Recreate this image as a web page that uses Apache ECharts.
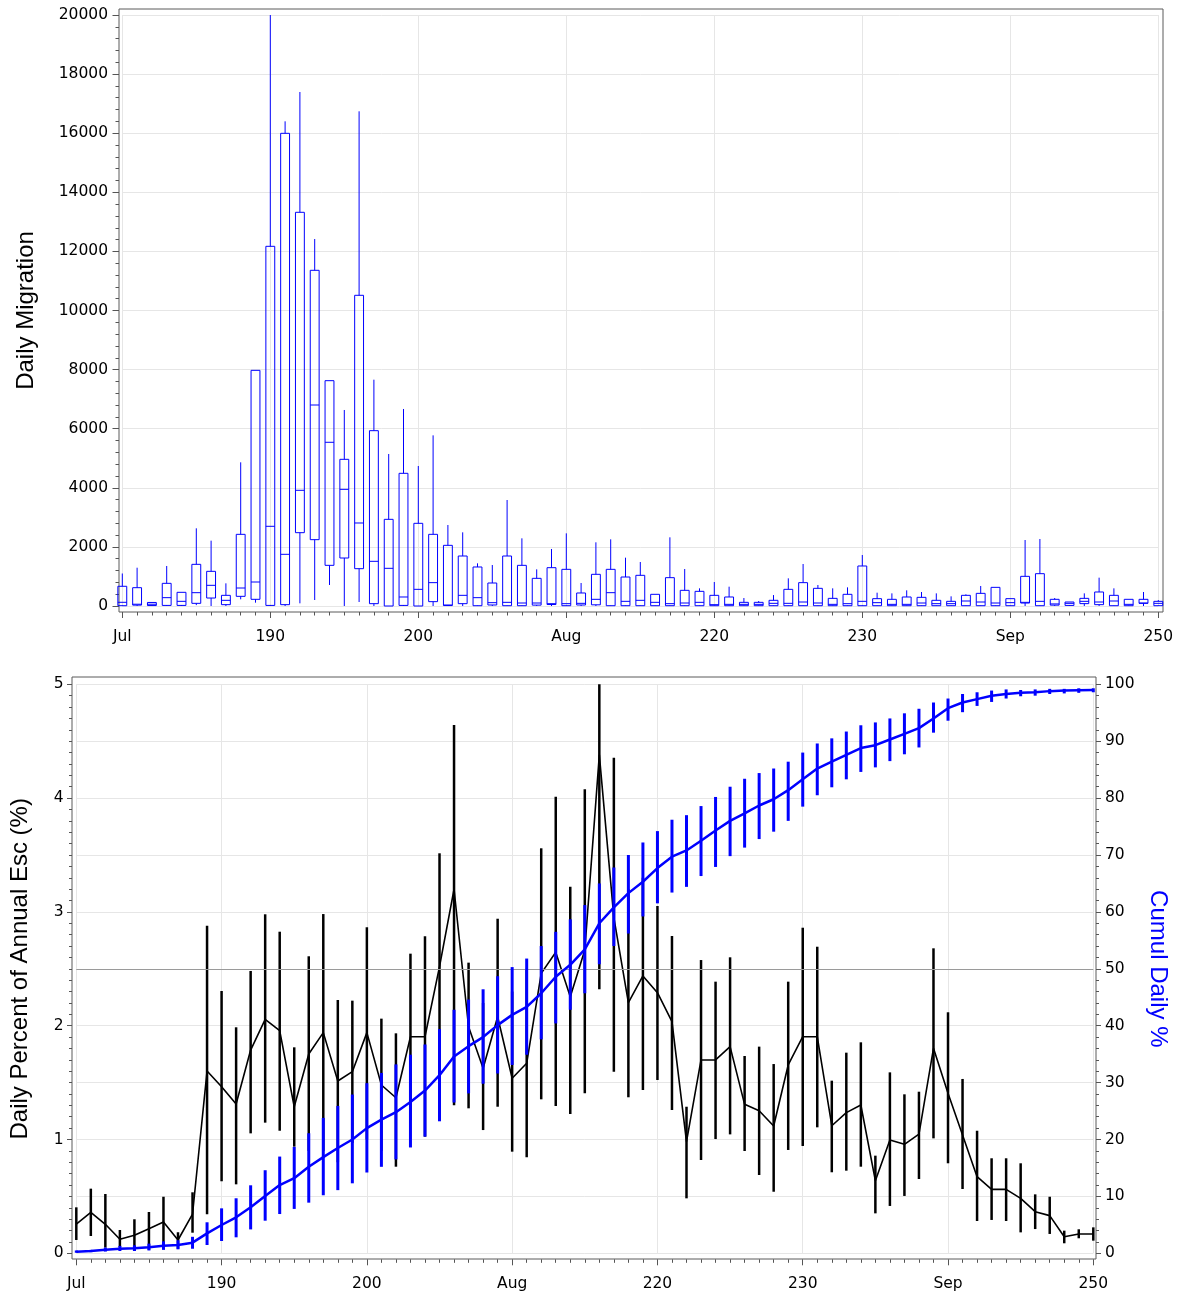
<!DOCTYPE html>
<html><head><meta charset="utf-8">
<script src="https://cdn.jsdelivr.net/npm/echarts@6/dist/echarts.min.js"></script>
<style>html,body{margin:0;padding:0;background:#fff}#c{width:1180px;height:1293px}</style>
</head><body><div id="c"></div>
<script>
// ---------- data ----------
const days = [180,181,182,183,184,185,186,187,188,189,190,191,192,193,194,195,196,197,198,199,200,
  201,202,203,204,205,206,207,208,209,210,211,212,213,214,215,216,217,218,219,220,
  221,222,223,224,225,226,227,228,229,230,231,232,233,234,235,236,237,238,239,240,
  241,242,243,244,245,246,247,248,249,250];

const xTickValues = [180,190,200,210,220,230,240,250];
const xTickLabels = ['Jul','190','200','Aug','220','230','Sep','250'];

// Daily migration box plot (per day): whisker min, Q1, median, Q3, whisker max
const boxMin = [0,0,0,0,0,30,0,0,226,113,0,0,90,203,711,0,135,0,0,0,0,
  0,0,0,0,0,0,0,0,0,0,0,0,0,0,0,0,0,0,0,0,
  0,0,0,0,0,0,0,0,0,0,0,0,0,0,0,0,0,0,0,0,
  0,0,0,0,0,0,0,0,0,0];
const boxQ1 = [10,30,15,20,20,90,270,45,327,226,20,45,2481,2245,1376,1624,1263,79,0,20,0,
  147,15,79,10,34,10,10,30,50,10,34,40,10,10,10,10,10,10,10,10,
  10,10,10,10,10,10,10,10,10,10,10,10,10,10,10,10,10,10,10,10,
  100,10,30,20,80,45,10,10,90,10];
const boxMed = [125,60,60,282,158,451,700,192,609,812,2697,1749,3915,6802,5540,3948,2809,1512,1275,305,564,
  790,34,361,282,113,124,101,101,79,79,90,226,451,158,192,124,79,101,124,45,
  56,56,56,90,90,135,101,56,79,158,113,56,56,101,79,79,169,135,101,113,
  124,158,70,90,158,135,169,56,101,90];
const boxQ3 = [667,620,120,767,463,1410,1173,361,2425,7975,12172,15996,13323,11360,7625,4964,10514,5933,2933,4490,2798,
  2425,2053,1692,1320,778,1692,1376,936,1297,1241,440,1072,1241,981,1038,395,959,530,496,361,
  305,124,124,192,564,790,598,259,395,1354,248,226,305,293,192,158,361,428,631,248,
  1004,1094,226,135,259,474,361,226,226,158];
const boxMax = [1100,1296,120,1354,463,2629,2211,767,4862,7975,20000,16402,17394,12419,7625,6633,16741,7659,5144,6667,4738,
  5775,2741,2493,1444,1387,3587,2290,1241,1929,2459,778,2155,2256,1635,1489,395,2324,1252,598,812,
  654,270,169,370,936,1421,711,598,631,1726,451,428,530,474,428,327,395,677,631,248,
  2233,2267,270,135,428,959,598,226,474,200];

// Daily percent of annual escapement (%) with range
const pctVal = [0.257,0.36,0.255,0.123,0.158,0.216,0.275,0.117,0.345,1.602,1.464,1.312,1.786,2.056,1.956,1.288,1.751,1.939,1.514,1.596,1.939,
  1.479,1.367,1.903,1.903,2.519,3.199,1.991,1.626,2.079,1.538,1.67,2.46,2.645,2.255,2.665,4.38,2.95,2.202,2.437,2.29,
  2.035,0.981,1.699,1.699,1.816,1.309,1.253,1.119,1.655,1.903,1.903,1.121,1.236,1.303,0.638,0.996,0.958,1.048,1.801,1.406,
  1.04,0.673,0.562,0.562,0.483,0.366,0.331,0.146,0.17,0.17];
const pctLow = [0.117,0.152,0.05,0.055,0.02,0.03,0.06,0.04,0.181,0.343,0.633,0.606,1.054,1.148,1.077,0.937,0.9,0.9,0.8,0.97,1.0,
  0.9,0.761,1.17,1.025,1.5,1.3,1.274,1.083,1.288,0.893,0.844,1.353,1.294,1.224,1.406,2.32,1.596,1.371,1.435,1.523,
  1.259,0.483,0.82,1.004,1.045,0.899,0.688,0.541,0.908,0.943,1.107,0.712,0.726,0.761,0.351,0.416,0.504,0.653,1.01,0.791,
  0.565,0.284,0.293,0.284,0.184,0.213,0.17,0.088,0.132,0.111];
const pctHigh = [0.404,0.568,0.521,0.205,0.299,0.363,0.497,0.185,0.536,2.879,2.305,1.986,2.481,2.979,2.826,1.81,2.61,2.981,2.226,2.22,2.865,
  2.062,1.933,2.633,2.786,3.515,4.642,2.554,2.2,2.94,2.3,2.5,3.559,4.012,3.221,4.077,5.0,4.355,3.2,3.3,3.052,
  2.788,1.288,2.577,2.387,2.601,1.734,1.816,1.663,2.387,2.861,2.694,1.517,1.763,1.854,0.858,1.59,1.397,1.42,2.68,2.118,
  1.532,1.077,0.835,0.835,0.791,0.518,0.497,0.199,0.211,0.228];

// Cumulative daily % with range
const cumVal = [0.28,0.4,0.64,0.82,0.87,1.05,1.34,1.46,1.87,3.51,4.97,6.33,8.08,10.07,12.0,13.2,15.2,16.9,18.5,20.0,22.0,
  23.5,24.8,26.6,28.6,31.3,34.6,36.4,38.0,40.1,41.9,43.3,45.7,48.6,50.7,53.4,58.0,60.8,63.3,65.3,67.7,
  69.7,70.8,72.5,74.3,76.0,77.3,78.7,79.8,81.4,83.3,85.2,86.4,87.6,88.8,89.3,90.3,91.3,92.3,94.0,95.8,
  96.8,97.4,98.0,98.3,98.5,98.6,98.8,98.9,98.95,99.0];
const cumLow = [0.1,0.2,0.3,0.4,0.4,0.5,0.6,0.7,0.8,1.46,2.16,2.81,4.2,5.73,6.9,7.8,8.9,10.2,11.1,12.3,14.2,
  15.2,16.5,18.6,20.5,23.2,26.5,28.1,29.8,31.6,33.1,34.9,37.6,40.4,42.8,45.7,50.8,54.0,56.2,59.2,61.5,
  63.4,64.4,66.3,67.9,69.8,71.3,72.8,74.1,76.0,78.5,80.5,81.9,83.3,84.6,85.4,86.5,87.7,88.9,91.5,93.6,
  95.1,96.2,96.9,97.5,97.9,98.0,98.3,98.4,98.5,98.6];
const cumHigh = [0.5,0.6,1.0,1.3,1.4,1.7,2.1,2.3,2.9,5.45,7.9,9.67,11.95,14.6,17.0,18.7,21.1,23.8,25.9,27.9,29.9,
  31.7,33.2,34.9,36.7,39.4,42.8,44.6,46.4,48.7,50.3,51.8,54.0,56.5,58.7,61.2,65.0,67.8,70.0,72.2,74.2,
  76.2,77.0,78.6,80.2,82.0,83.4,84.4,85.2,86.4,88.0,89.6,90.5,91.7,92.8,93.3,94.0,94.9,95.7,96.8,97.5,
  98.3,98.6,98.9,99.1,99.0,99.1,99.2,99.2,99.3,99.3];

const refLineValue = 2.5;

// ---------- styles ----------
const BOX_COLOR = '#0000ff';
const BLUE = '#0000ff';
const BLACK = '#000000';
const GRID_LINE = '#e6e6e6';
const TICK_COLOR = '#555555';
const FRAME_COLOR = '#5a5a5a';
const tickFont = { fontFamily: 'DejaVu Sans', fontSize: 15.5, color: '#000' };
const titleFont = { fontFamily: 'Liberation Sans', fontSize: 24, color: '#000' };

function xLabel(v) {
  const i = xTickValues.indexOf(v);
  return i >= 0 ? xTickLabels[i] : '';
}

function renderBox(params, api) {
  const x = api.value(0);
  const pMin = api.coord([x, api.value(1)]);
  const pQ1 = api.coord([x, api.value(2)]);
  const pMed = api.coord([x, api.value(3)]);
  const pQ3 = api.coord([x, api.value(4)]);
  const pMax = api.coord([x, api.value(5)]);
  const hw = api.size([1, 0])[0] * 0.3;
  const cx = pQ1[0];
  const st = { stroke: BOX_COLOR, lineWidth: 1, fill: null };
  const children = [];
  if (pMax[1] < pQ3[1]) children.push({ type: 'line', shape: { x1: cx, y1: pMax[1], x2: cx, y2: pQ3[1] }, style: st });
  if (pMin[1] > pQ1[1]) children.push({ type: 'line', shape: { x1: cx, y1: pQ1[1], x2: cx, y2: pMin[1] }, style: st });
  children.push({ type: 'rect', shape: { x: cx - hw, y: pQ3[1], width: 2 * hw, height: Math.max(pQ1[1] - pQ3[1], 1) }, style: st });
  children.push({ type: 'line', shape: { x1: cx - hw, y1: pMed[1], x2: cx + hw, y2: pMed[1] }, style: st });
  return { type: 'group', children };
}

function makeErr(color, width) {
  return function (params, api) {
    const x = api.value(0);
    const a = api.coord([x, api.value(1)]);
    const b = api.coord([x, api.value(2)]);
    return { type: 'line', shape: { x1: a[0], y1: a[1], x2: b[0], y2: b[1] }, style: { stroke: color, lineWidth: width } };
  };
}

function dataX(gridIndex, offset) {
  return {
    gridIndex, type: 'value', min: 180, max: 250, interval: 10, position: 'bottom', offset,
    axisLine: { show: false, onZero: false },
    axisTick: { show: true, length: 6, lineStyle: { color: TICK_COLOR } },
    minorTick: { show: true, splitNumber: 10, length: 3.5, lineStyle: { color: TICK_COLOR } },
    axisLabel: Object.assign({ margin: 17, formatter: xLabel }, tickFont),
    splitLine: { show: true, lineStyle: { color: GRID_LINE } }
  };
}
function hidden(gridIndex) { return { gridIndex, type: 'value', show: false, min: 0, max: 1 }; }

const chart = echarts.init(document.getElementById('c'), null, { renderer: 'canvas' });
chart.setOption({
  animation: false,
  backgroundColor: '#fff',
  grid: [
    { left: 119, top: 9, width: 1044, height: 603, show: true, borderColor: FRAME_COLOR, borderWidth: 1, backgroundColor: 'transparent' },
    { left: 122.3, top: 15, width: 1036, height: 591 },
    { left: 72, top: 677, width: 1024, height: 582, show: true, borderColor: FRAME_COLOR, borderWidth: 1, backgroundColor: 'transparent' },
    { left: 76, top: 684.3, width: 1017.3, height: 569 }
  ],
  xAxis: [hidden(0), dataX(1, 6), hidden(2), dataX(3, 6)],
  yAxis: [
    hidden(0),
    {
      gridIndex: 1, type: 'value', min: 0, max: 20000, interval: 2000, offset: 3.3,
      axisLine: { show: false },
      axisTick: { show: true, length: 6.5, lineStyle: { color: TICK_COLOR } },
      minorTick: { show: true, splitNumber: 5, length: 3.5, lineStyle: { color: TICK_COLOR } },
      axisLabel: Object.assign({ margin: 11, formatter: v => String(v) }, tickFont),
      splitLine: { show: true, lineStyle: { color: GRID_LINE } },
      name: 'Daily Migration', nameLocation: 'middle', nameRotate: 90, nameGap: 81,
      nameTextStyle: titleFont
    },
    hidden(2),
    {
      gridIndex: 3, type: 'value', min: 0, max: 5, interval: 1, offset: 4.3, position: 'left',
      axisLine: { show: false },
      axisTick: { show: true, length: 5, lineStyle: { color: TICK_COLOR } },
      minorTick: { show: true, splitNumber: 10, length: 3, lineStyle: { color: TICK_COLOR } },
      axisLabel: Object.assign({ margin: 8.5 }, tickFont),
      splitLine: { show: false },
      name: 'Daily Percent of Annual Esc (%)', nameLocation: 'middle', nameRotate: 90, nameGap: 40,
      nameTextStyle: titleFont
    },
    {
      gridIndex: 3, type: 'value', min: 0, max: 100, interval: 10, offset: 2.7, position: 'right',
      axisLine: { show: false },
      axisTick: { show: true, length: 5, lineStyle: { color: TICK_COLOR } },
      minorTick: { show: true, splitNumber: 5, length: 3, lineStyle: { color: TICK_COLOR } },
      axisLabel: Object.assign({ margin: 9 }, tickFont),
      splitLine: { show: true, lineStyle: { color: GRID_LINE } },
      name: 'Cumul Daily %', nameLocation: 'middle', nameRotate: -90, nameGap: 50,
      nameTextStyle: Object.assign({}, titleFont, { color: BLUE })
    }
  ],
  series: [
    {
      type: 'custom', name: 'Daily Migration', xAxisIndex: 1, yAxisIndex: 1,
      renderItem: renderBox, encode: { x: 0, y: [1, 2, 3, 4, 5] },
      data: days.map((d, i) => [d, boxMin[i], boxQ1[i], boxMed[i], boxQ3[i], boxMax[i]]),
      z: 3
    },
    {
      type: 'custom', name: 'Daily % range', xAxisIndex: 3, yAxisIndex: 3,
      renderItem: makeErr(BLACK, 2.5), encode: { x: 0, y: [1, 2] },
      data: days.map((d, i) => [d, pctLow[i], pctHigh[i]]), z: 3
    },
    {
      type: 'line', name: 'Daily %', xAxisIndex: 3, yAxisIndex: 3,
      data: days.map((d, i) => [d, pctVal[i]]),
      showSymbol: false, symbol: 'none', lineStyle: { color: BLACK, width: 1.6 }, z: 4,
      markLine: {
        silent: true, symbol: ['none', 'none'], label: { show: false },
        lineStyle: { color: '#9a9a9a', width: 1, type: 'solid' },
        data: [{ yAxis: refLineValue }]
      }
    },
    {
      type: 'custom', name: 'Cumul range', xAxisIndex: 3, yAxisIndex: 4,
      renderItem: makeErr(BLUE, 3), encode: { x: 0, y: [1, 2] },
      data: days.map((d, i) => [d, cumLow[i], cumHigh[i]]), z: 5
    },
    {
      type: 'line', name: 'Cumul Daily %', xAxisIndex: 3, yAxisIndex: 4,
      data: days.map((d, i) => [d, cumVal[i]]),
      showSymbol: false, symbol: 'none', lineStyle: { color: BLUE, width: 2.5 }, z: 6
    }
  ]
});
</script>
</body></html>
